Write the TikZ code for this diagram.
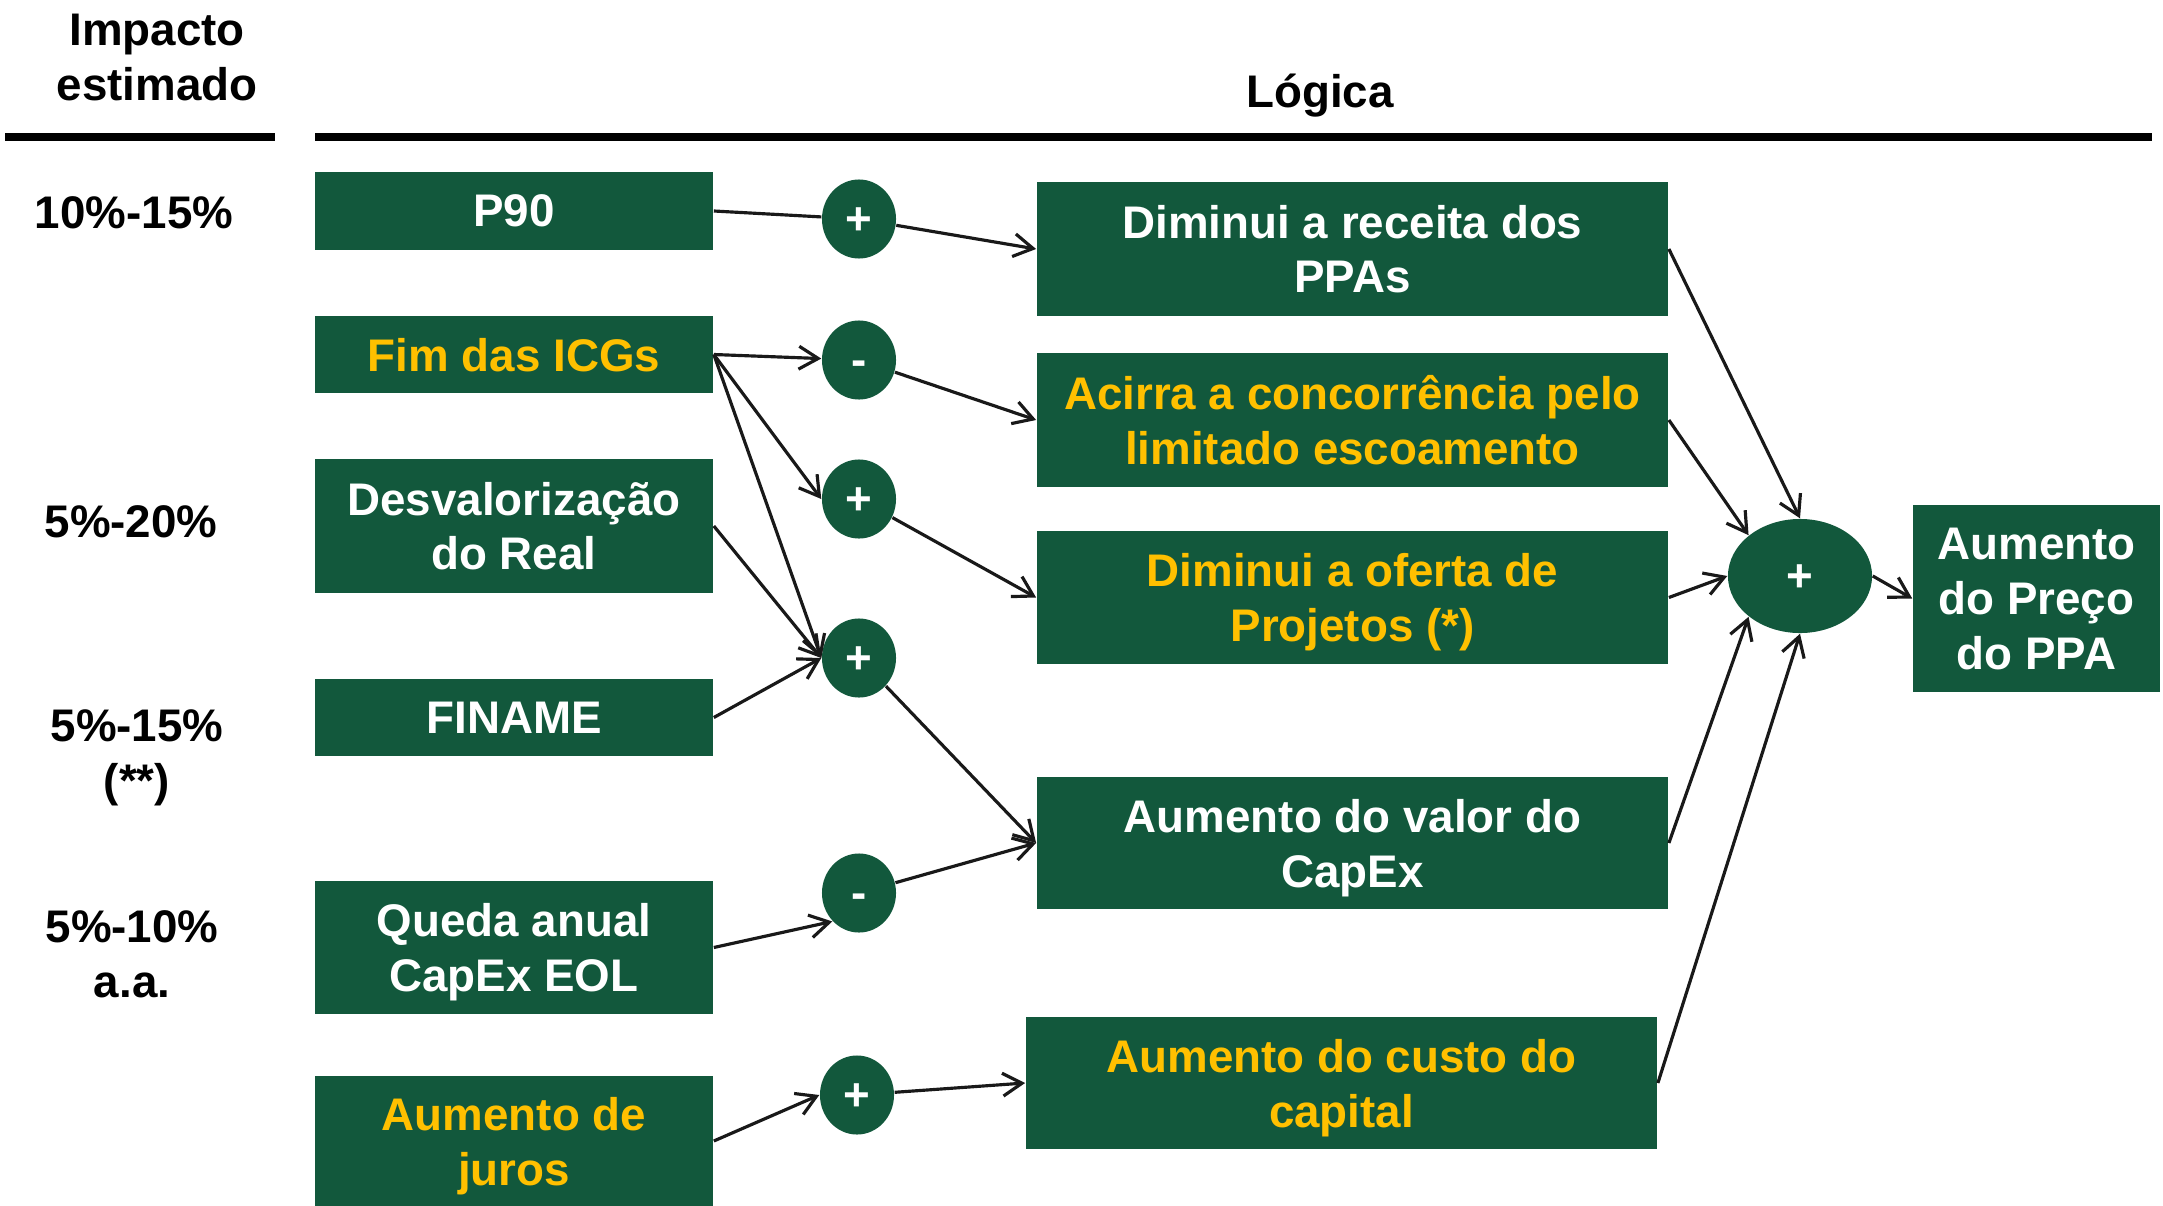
\documentclass[tikz,border=0pt]{standalone}
\usepackage{fontspec}
\setmainfont{Liberation Sans}
\usetikzlibrary{arrows.meta,shapes.geometric}

\definecolor{verde}{RGB}{18,88,60}
\definecolor{amarelo}{RGB}{255,192,0}

\tikzset{
	caixa/.style={fill=verde, text=white, inner sep=0pt, align=center, text depth=0pt,
		font=\fontsize{13}{15.6}\selectfont\bfseries},
	caixaamarela/.style={caixa, text=amarelo},
	sinal/.style={ellipse, fill=verde, text=white, inner sep=0pt,
		minimum width=0.74cm, minimum height=0.79cm, text height=9pt, text depth=0pt,
		font=\fontsize{13}{15.6}\selectfont\bfseries},
	rotulo/.style={align=center, text depth=0pt, font=\fontsize{13}{15.6}\selectfont\bfseries},
	seta/.style={-{Straight Barb[length=5.5pt,width=6.5pt]}, line width=0.9pt, draw=black!90},
	linha/.style={line width=0.9pt, draw=black!90}
}

\begin{document}
\begin{tikzpicture}[x=0.01cm, y=-0.01cm]
		\useasboundingbox (0,0) rectangle (2163,1206);

		% cabecalho
		\node[rotulo] (impacto) at (157,57) {Impacto\\estimado};
		\node[rotulo] (logica) at (1320,91) {Lógica};
		\draw[line width=0.08cm] (5,137) -- (275,137);
		\draw[line width=0.08cm] (315,137) -- (2152,137);

		% impacto estimado
		\node[rotulo] (imp1) at (134,213) {10\%-15\%};
		\node[rotulo] (imp2) at (131,522) {5\%-20\%};
		\node[rotulo] (imp3) at (137,753) {5\%-15\%\\(**)};
		\node[rotulo] (imp4) at (132,954) {5\%-10\%\\a.a.};

		% fatores
		\node[caixa, minimum width=3.98cm, minimum height=0.78cm] (p90) at (514,211) {P90};
		\node[caixaamarela, minimum width=3.98cm, minimum height=0.77cm] (icg) at (514,354.5) {Fim das ICGs};
		\node[caixa, minimum width=3.98cm, minimum height=1.34cm] (desv) at (514,526) {Desvalorização\\do Real};
		\node[caixa, minimum width=3.98cm, minimum height=0.77cm] (finame) at (514,717.5) {FINAME};
		\node[caixa, minimum width=3.98cm, minimum height=1.33cm] (queda) at (514,947.5) {Queda anual\\CapEx EOL};
		\node[caixaamarela, minimum width=3.98cm, minimum height=1.30cm] (juros) at (514,1141) {Aumento de\\juros};

		% sinais
		\node[sinal] (s1) at (859,219) {+};
		\node[sinal] (s2) at (859,360) {-};
		\node[sinal] (s3) at (859,499) {+};
		\node[sinal] (s4) at (859,658) {+};
		\node[sinal] (s5) at (859,893) {-};
		\node[sinal] (s6) at (857,1095) {+};

		% efeitos
		\node[caixa, minimum width=6.31cm, minimum height=1.34cm] (receita) at (1352.5,249) {Diminui a receita dos\\PPAs};
		\node[caixaamarela, minimum width=6.31cm, minimum height=1.34cm] (acirra) at (1352.5,420) {Acirra a concorrência pelo\\limitado escoamento};
		\node[caixaamarela, minimum width=6.31cm, minimum height=1.33cm] (oferta) at (1352.5,597.5) {Diminui a oferta de\\Projetos (*)};
		\node[caixa, minimum width=6.31cm, minimum height=1.32cm] (capex) at (1352.5,843) {Aumento do valor do\\CapEx};
		\node[caixaamarela, minimum width=6.31cm, minimum height=1.32cm] (custo) at (1341.5,1083) {Aumento do custo do\\capital};

		% resultado
		\node[sinal, minimum width=1.44cm, minimum height=1.14cm] (soma) at (1800,576) {+};
		\node[caixa, minimum width=2.47cm, minimum height=1.87cm] (preco) at (2036.5,598.5) {Aumento\\do Preço\\do PPA};

		% ligacoes
		\draw[linha] (p90.east) -- (s1);
		\draw[seta] (s1) -- (receita.west);
		\draw[seta] (icg.east) -- (s2);
		\draw[seta] (s2) -- (acirra.west);
		\draw[seta] (icg.east) -- (s3.west);
		\draw[seta] (s3) -- (oferta.west);
		\draw[seta] (icg.east) -- (s4.west);
		\draw[seta] (desv.east) -- (s4.west);
		\draw[seta] (finame.east) -- (s4.west);
		\draw[seta] (s4) -- (capex.west);
		\draw[seta] (queda.east) -- (s5.south west);
		\draw[seta] (s5) -- (capex.west);
		\draw[seta] (juros.east) -- (s6.west);
		\draw[seta] (s6) -- (custo.west);

		\draw[seta] (receita.east) -- (soma.north);
		\draw[seta] (acirra.east) -- (soma.north west);
		\draw[seta] (oferta.east) -- (soma.west);
		\draw[seta] (capex.east) -- (soma.south west);
		\draw[seta] (custo.east) -- (soma.south);
		\draw[seta] (soma.east) -- (preco.west);
	\end{tikzpicture}
\end{document}
